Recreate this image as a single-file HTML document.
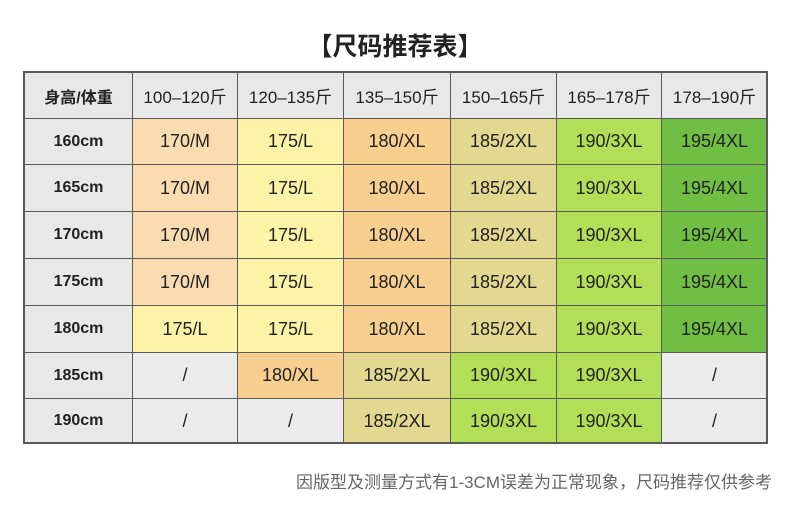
<!DOCTYPE html><html><head><meta charset="utf-8"><style>
body{margin:0;width:790px;height:525px;background:#fff;position:relative;overflow:hidden;font-family:"Liberation Sans","Noto Sans CJK SC",sans-serif;}
.t{position:absolute;left:0;right:0;text-align:center;color:#222;}
.c{position:absolute;box-sizing:border-box;border:1px solid #5a5a5a;display:flex;align-items:center;justify-content:center;font-size:18px;color:#222;}
.h{background:#e8e8e8;font-size:17px}
.b{font-weight:bold;font-size:16px}
</style></head><body>
<div class="t" style="top:27px;font-size:25px;font-weight:bold;">【尺码推荐表】</div>
<div id="g"></div>
<div style="position:absolute;left:23px;top:71px;width:745px;height:373px;border:2px solid #5a5a5a;box-sizing:border-box;pointer-events:none"></div>
<div style="position:absolute;right:18px;top:468px;font-size:17px;color:#666;">因版型及测量方式有1-3CM误差为正常现象，尺码推荐仅供参考</div>
<script>
var X=[24,132,237,343,450,556,661,767],Y=[72,118,164,211,258,305,352,398,443];
var C={'170/M':'#fbdcb0','175/L':'#fdf3a6','180/XL':'#f9cf8f','185/2XL':'#e2d88f','190/3XL':'#b3df58','195/4XL':'#70bf44','/':'#ebebeb'};
var H=['身高/体重','100–120斤','120–135斤','135–150斤','150–165斤','165–178斤','178–190斤'];
var R=[['160cm','170/M','175/L','180/XL','185/2XL','190/3XL','195/4XL'],
['165cm','170/M','175/L','180/XL','185/2XL','190/3XL','195/4XL'],
['170cm','170/M','175/L','180/XL','185/2XL','190/3XL','195/4XL'],
['175cm','170/M','175/L','180/XL','185/2XL','190/3XL','195/4XL'],
['180cm','175/L','175/L','180/XL','185/2XL','190/3XL','195/4XL'],
['185cm','/','180/XL','185/2XL','190/3XL','190/3XL','/'],
['190cm','/','/','185/2XL','190/3XL','190/3XL','/']];
var s='';
function cell(r,c,txt,bg,cls){s+='<div class="c '+cls+'" style="left:'+X[c]+'px;top:'+Y[r]+'px;width:'+(X[c+1]-X[c]+1)+'px;height:'+(Y[r+1]-Y[r]+1)+'px;background:'+bg+'">'+txt+'</div>';}
H.forEach(function(t,i){cell(0,i,t,'#e8e8e8','h'+(i==0?' b':''));});
R.forEach(function(row,r){row.forEach(function(t,i){cell(r+1,i,t,i==0?'#e8e8e8':C[t],i==0?'b':'');});});
document.getElementById('g').innerHTML=s;
</script>
</body></html>
